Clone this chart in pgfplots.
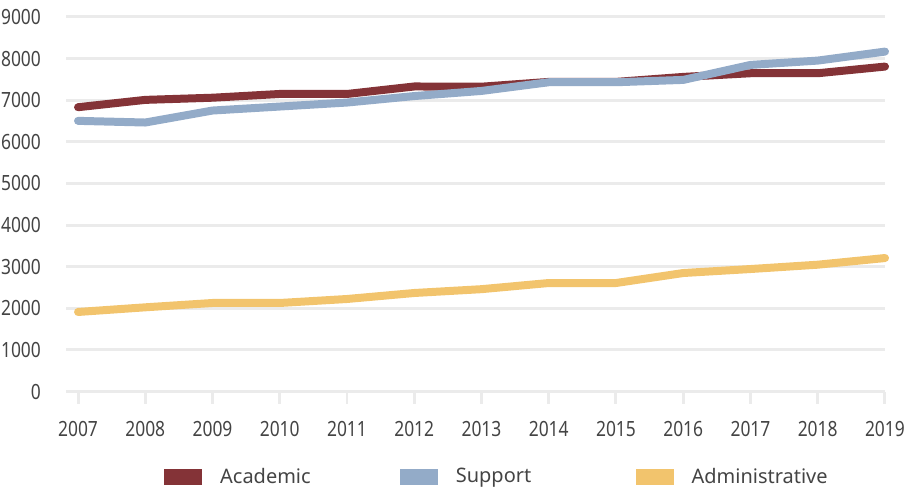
\documentclass[border=0pt]{standalone}
\usepackage{fontspec}
\setmainfont{Noto Sans}
\newfontfamily\condensed[FakeStretch=0.83]{Noto Sans}
\usepackage{pgfplots}
\pgfplotsset{compat=1.18}

\definecolor{acad}{HTML}{843337}
\definecolor{supp}{HTML}{93ABC8}
\definecolor{admin}{HTML}{F2C46D}
\definecolor{gridgray}{HTML}{EBEBEB}
\definecolor{txt}{HTML}{444444}

\begin{document}
\begin{tikzpicture}
\begin{axis}[
  name=ax,
  scale only axis,
  width=410pt, height=187.5pt,
  xmin=2006.82, xmax=2019,
  ymin=0, ymax=9000,
  xtick={2007,...,2019},
  ytick={0,1000,...,9000},
  axis line style={draw=none},
  ymajorgrids=true,
  grid style={draw=gridgray, line width=1.5pt},
  xtick pos=bottom,
  tick align=outside,
  major tick length=6pt,
  xtick style={draw=gridgray, line width=1.5pt},
  ytick style={draw=none},
  /pgf/number format/1000 sep={},
  /pgf/number format/assume math mode=true,
  tick label style={font=\fontsize{10.5}{12}\condensed, text=txt},
  xticklabel style={yshift=-5.5pt},
  yticklabel style={xshift=-3pt},
  clip=false,
  legend columns=3,
  legend style={draw=none, fill=none, inner sep=0pt,
    at={(rel axis cs:0.1195,0)}, anchor=north west, yshift=-38pt,
    font=\fontsize{10}{12}\selectfont, text=txt,
    nodes={inner sep=0pt},
    /tikz/every odd column/.append style={column sep=9pt}},
  legend image code/.code={\fill[draw=none] (0pt,-4pt) rectangle (19pt,4pt);},
  every axis plot/.append style={line width=4pt, line cap=round, line join=round},
]
\addplot[color=acad] coordinates {
  (2007,6832) (2008,7008) (2009,7060) (2010,7150) (2011,7150) (2012,7330) (2013,7325)
  (2014,7440) (2015,7440) (2016,7560) (2017,7648) (2018,7648) (2019,7808)
};
\addlegendentry{\makebox[90pt][l]{Academic}}
\addplot[color=supp] coordinates {
  (2007,6504) (2008,6464) (2009,6752) (2010,6848) (2011,6944) (2012,7100) (2013,7223)
  (2014,7432) (2015,7432) (2016,7488) (2017,7848) (2018,7952) (2019,8168)
};
\addlegendentry{\makebox[90pt][l]{Support}}
\addplot[color=admin] coordinates {
  (2007,1912) (2008,2024) (2009,2128) (2010,2128) (2011,2224) (2012,2368) (2013,2460)
  (2014,2608) (2015,2608) (2016,2848) (2017,2944) (2018,3048) (2019,3208)
};
\addlegendentry{Administrative}
\coordinate (sw) at (rel axis cs:0,0);
\coordinate (ne) at (rel axis cs:1,1);
\end{axis}
\pgfresetboundingbox
\useasboundingbox ([xshift=-33pt,yshift=-48pt]sw) rectangle ([xshift=11.5pt,yshift=8.5pt]ne);
\end{tikzpicture}
\end{document}
